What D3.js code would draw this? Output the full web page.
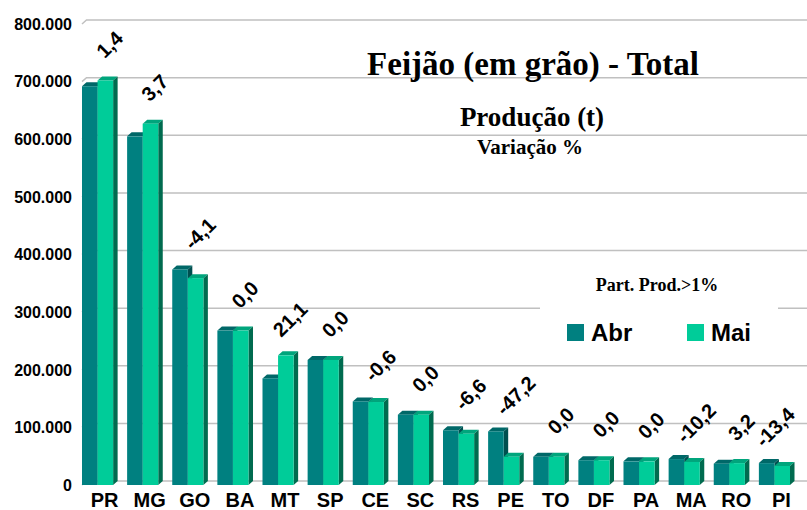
<!DOCTYPE html>
<html>
<head>
<meta charset="utf-8">
<script src="https://cdn.jsdelivr.net/npm/d3@7"></script>
<style>
  body { margin: 0; background: #fff; }
  svg { display: block; }
</style>
</head>
<body>
<div id="chart"></div>
<script>
// Feijão (em grão) - produção por UF, Abr x Mai
const categories = ["PR", "MG", "GO", "BA", "MT", "SP", "CE", "SC", "RS", "PE", "TO", "DF", "PA", "MA", "RO", "PI"];
const abr = [692000, 605000, 374000, 268000, 185000, 217000, 145000, 122000, 95000, 93000, 49000, 43000, 41000, 45000, 37000, 38000];
const mai = [702000, 627000, 359000, 268000, 225000, 217000, 144000, 122000, 89000, 49000, 49000, 43000, 41000, 40000, 38000, 33000];
const variacao = ["1,4", "3,7", "-4,1", "0,0", "21,1", "0,0", "-0,6", "0,0", "-6,6", "-47,2", "0,0", "0,0", "0,0", "-10,2", "3,2", "-13,4"];
const yTicks = [0, 100000, 200000, 300000, 400000, 500000, 600000, 700000, 800000];
const seriesNames = ["Abr", "Mai"];

const width = 807, height = 510;
const depthX = 4.5, depthY = 4; // fake 3D depth

const colors = {
  Abr: { front: "#008080", side: "#004f4f", top: "#006868" },
  Mai: { front: "#00cc99", side: "#006b4f", top: "#00a57c" }
};

const svg = d3.select("#chart").append("svg").attr("width", width).attr("height", height);

const x = d3.scaleBand().domain(categories).range([75, 797]).paddingInner(0.31).paddingOuter(0.155);
const x1 = d3.scaleBand().domain(seriesNames).range([0, x.bandwidth()]);
const y = d3.scaleLinear().domain([0, 800000]).range([485, 24]);

const fmt = d3.formatLocale({ decimal: ",", thousands: ".", grouping: [3], currency: ["R$", ""] }).format(",.0f");

// gridlines on back wall
const gridX0 = x.range()[0] + 7;
svg.append("g").selectAll("path").data(yTicks).join("path")
  .attr("d", d => `M${gridX0},${y(d)} L${gridX0 + depthX},${y(d) - depthY} L${width},${y(d) - depthY}`)
  .attr("fill", "none").attr("stroke", "#c0c0c0").attr("stroke-width", 1.5);

// y axis labels
svg.append("g").selectAll("text").data(yTicks).join("text")
  .attr("x", 72).attr("y", d => y(d)).attr("dy", "0.36em")
  .attr("text-anchor", "end")
  .style("font", "bold 16px 'Liberation Sans', Arial, sans-serif")
  .text(d => fmt(d));

// bars
const series = [abr, mai];
const bars = svg.append("g");
categories.forEach((c, i) => {
  seriesNames.forEach((s, k) => {
    const v = series[k][i];
    const x0 = x(c) + x1(s), w = x1.bandwidth();
    const top = y(v), bot = y(0);
    const col = colors[s];
    bars.append("path")
      .attr("d", `M${x0},${top} L${x0 + depthX},${top - depthY} L${x0 + w + depthX},${top - depthY} L${x0 + w},${top} Z`)
      .attr("fill", col.top);
    bars.append("path")
      .attr("d", `M${x0 + w},${top} L${x0 + w + depthX},${top - depthY} L${x0 + w + depthX},${bot - depthY} L${x0 + w},${bot} Z`)
      .attr("fill", col.side);
    bars.append("rect")
      .attr("x", x0).attr("y", top).attr("width", w).attr("height", bot - top)
      .attr("fill", col.front);
  });
});

// variation labels, rotated (kept inside the right edge)
svg.append("g").selectAll("text").data(categories).join("text")
  .attr("transform", (c, i) => {
    const cx = Math.min(x(c) + x.bandwidth() / 2 + 17, width - 27);
    const cy = y(Math.max(abr[i], mai[i])) - 31;
    return `translate(${cx},${cy}) rotate(-45)`;
  })
  .attr("text-anchor", "middle")
  .style("font", "bold 20px 'Liberation Sans', Arial, sans-serif")
  .text((c, i) => variacao[i]);

// category labels
svg.append("g").selectAll("text").data(categories).join("text")
  .attr("x", c => x(c) + x.bandwidth() / 2 + 7).attr("y", 507)
  .attr("text-anchor", "middle")
  .style("font", "bold 20px 'Liberation Sans', Arial, sans-serif")
  .text(c => c);

// titles
const serif = "'Liberation Serif', 'Times New Roman', serif";
svg.append("text").attr("x", 533).attr("y", 75).attr("text-anchor", "middle")
  .style("font", `bold 33px ${serif}`).text("Feijão (em grão) - Total");
svg.append("text").attr("x", 532).attr("y", 126).attr("text-anchor", "middle")
  .style("font", `bold 27px ${serif}`).text("Produção (t)");
svg.append("text").attr("x", 530).attr("y", 154).attr("text-anchor", "middle")
  .style("font", `bold 21px ${serif}`).text("Variação %");

// legend box (covers gridlines)
const legend = svg.append("g");
legend.append("rect").attr("x", 540).attr("y", 268).attr("width", 238).attr("height", 82).attr("fill", "#fff");
legend.append("text").attr("x", 657).attr("y", 291).attr("text-anchor", "middle")
  .style("font", `bold 18px ${serif}`).text("Part. Prod.>1%");
const legendX = [567, 687];
seriesNames.forEach((s, k) => {
  legend.append("rect").attr("x", legendX[k]).attr("y", 324).attr("width", 17).attr("height", 17)
    .attr("fill", colors[s].front);
  legend.append("text").attr("x", legendX[k] + 24).attr("y", 341)
    .style("font", "bold 24px 'Liberation Sans', Arial, sans-serif").text(s);
});
</script>
</body>
</html>
